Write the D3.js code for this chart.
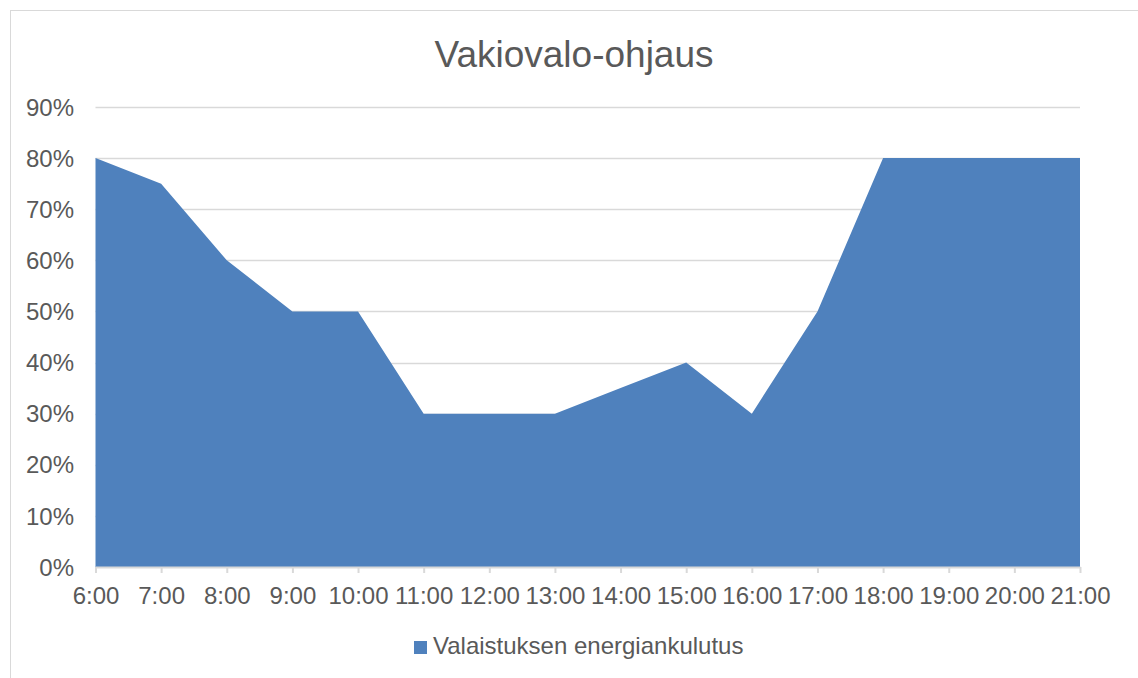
<!DOCTYPE html>
<html>
<head>
<meta charset="utf-8">
<script src="https://cdn.jsdelivr.net/npm/d3@7"></script>
<style>
	body { margin: 0; background: #fff; }
	text { font-family: "Liberation Sans", Arial, sans-serif; fill: #595959; }
</style>
</head>
<body>
<div id="chart"></div>
<script>
const hours = ["6:00", "7:00", "8:00", "9:00", "10:00", "11:00", "12:00", "13:00",
	"14:00", "15:00", "16:00", "17:00", "18:00", "19:00", "20:00", "21:00"];
const consumption = [80, 75, 60, 50, 50, 30, 30, 30, 35, 40, 30, 50, 80, 80, 80, 80];
const yTicks = [0, 10, 20, 30, 40, 50, 60, 70, 80, 90];
const seriesName = "Valaistuksen energiankulutus";
const chartTitle = "Vakiovalo-ohjaus";

const width = 1138;
const height = 678;
const margin = { top: 107, right: 58, bottom: 111, left: 95.5 };

const svg = d3
	.select("#chart")
	.append("svg")
	.attr("width", width)
	.attr("height", height);

// chart frame
svg.append("rect")
	.attr("x", 10.5)
	.attr("y", 10.5)
	.attr("width", width)
	.attr("height", height)
	.attr("fill", "none")
	.attr("stroke", "#d9d9d9");

const x = d3.scalePoint().domain(hours).range([margin.left, width - margin.right]);
const y = d3.scaleLinear().domain([0, 90]).range([height - margin.bottom, margin.top]);

// gridlines
svg.append("g")
	.selectAll("line")
	.data(yTicks.filter((d) => d > 0))
	.enter()
	.append("line")
	.attr("x1", margin.left)
	.attr("x2", width - margin.right)
	.attr("y1", (d) => Math.round(y(d)) + 0.5)
	.attr("y2", (d) => Math.round(y(d)) + 0.5)
	.attr("stroke", "#d9d9d9")
	.attr("stroke-width", 1.5);

const area = d3
	.area()
	.x((d, i) => x(hours[i]))
	.y0(y(0))
	.y1((d) => y(d));

svg.append("path")
	.datum(consumption)
	.attr("d", area)
	.attr("fill", "#4f81bd");

// y axis labels
svg.append("g")
	.selectAll("text")
	.data(yTicks)
	.enter()
	.append("text")
	.attr("x", 74)
	.attr("y", (d) => y(d))
	.attr("dy", "0.36em")
	.attr("text-anchor", "end")
	.style("font-size", "24px")
	.text((d) => d + "%");

// x axis
const xAxis = svg.append("g")
	.attr("transform", `translate(0,${y(0)})`)
	.call(d3.axisBottom(x).tickSize(6).tickPadding(14).tickSizeOuter(0));

xAxis.select(".domain").attr("stroke", "#d9d9d9").attr("stroke-width", 2);
xAxis.selectAll(".tick line").attr("stroke", "#d9d9d9").attr("stroke-width", 2);
xAxis.selectAll(".tick text")
	.attr("font-family", null)
	.attr("fill", null)
	.style("font-size", "24px");

// title
svg.append("text")
	.attr("x", 574)
	.attr("y", 67)
	.attr("text-anchor", "middle")
	.style("font-size", "37px")
	.text(chartTitle);

// legend
const legend = svg.append("g").attr("transform", "translate(414,641)");
legend.append("rect")
	.attr("width", 13)
	.attr("height", 13)
	.attr("fill", "#4f81bd");
legend.append("text")
	.attr("x", 19)
	.attr("y", 13)
	.style("font-size", "24px")
	.text(seriesName);
</script>
</body>
</html>
